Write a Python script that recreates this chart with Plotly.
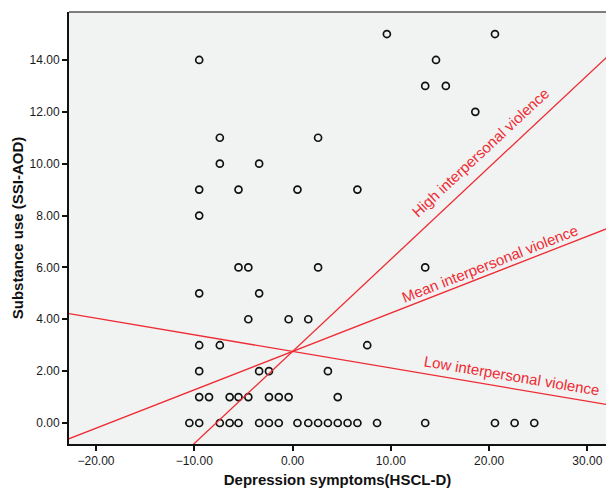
import plotly.graph_objects as go

# ---- data ----
dep_y0 = [-10.5, -9.5, -7.4, -6.4, -5.5, -3.4, -2.4, -1.4, 0.5, 1.6, 2.6, 3.6, 4.6, 5.6, 6.6, 8.6, 13.5, 20.6, 22.6, 24.6]
dep_y1 = [-9.5, -8.5, -6.4, -5.5, -4.5, -2.4, -1.4, -0.4, 4.6]
dep_y2 = [-9.5, -3.4, -2.4, 3.6]
dep_y3 = [-9.5, -7.4, 7.6]
dep_y4 = [-4.5, -0.4, 1.6]
dep_y5 = [-9.5, -3.4]
dep_y6 = [-5.5, -4.5, 2.6, 13.5]
dep_y8 = [-9.5]
dep_y9 = [-9.5, -5.5, 0.5, 6.6]
dep_y10 = [-7.4, -3.4]
dep_y11 = [-7.4, 2.6]
dep_y12 = [18.6]
dep_y13 = [13.5, 15.6]
dep_y14 = [-9.5, 14.6]
dep_y15 = [9.6, 20.6]

substance_levels = [0, 1, 2, 3, 4, 5, 6, 8, 9, 10, 11, 12, 13, 14, 15]
depression_by_level = [dep_y0, dep_y1, dep_y2, dep_y3, dep_y4, dep_y5, dep_y6, dep_y8,
                       dep_y9, dep_y10, dep_y11, dep_y12, dep_y13, dep_y14, dep_y15]

line_names = ["High interpersonal violence", "Mean interpersonal violence", "Low interpersonal violence"]
line_intercepts = [2.76, 2.76, 2.76]
line_slopes = [0.355, 0.148, -0.064]
label_x = [19.1, 20.1, 22.3]

x_tickvals = [-20, -10, 0, 10, 20, 30]
y_tickvals = [0, 2, 4, 6, 8, 10, 12, 14]

x_range = [-22.75, 31.9]
y_range = [-0.81, 15.85]

# ---- build figure ----
xs, ys = [], []
for lvl, deps in zip(substance_levels, depression_by_level):
    for d in deps:
        xs.append(d)
        ys.append(lvl)

RED = "#ee2b33"
FONT = "Arial, Liberation Sans, sans-serif"

fig = go.Figure()
fig.add_trace(go.Scatter(
    x=xs, y=ys, mode="markers",
    marker=dict(symbol="circle-open", size=7, color="#111111", line=dict(width=1.7, color="#111111")),
    showlegend=False, hoverinfo="skip"))

label_shift = [23, 11, 13]
label_angle = [-43, -21.4, 9.6]
for name, b0, b1, lx, sh, ang in zip(line_names, line_intercepts, line_slopes, label_x, label_shift, label_angle):
    fig.add_trace(go.Scatter(
        x=[x_range[0] - 5, x_range[1] + 5],
        y=[b0 + b1 * (x_range[0] - 5), b0 + b1 * (x_range[1] + 5)],
        mode="lines", line=dict(color=RED, width=1.3),
        showlegend=False, hoverinfo="skip", cliponaxis=True))
    fig.add_annotation(x=lx, y=b0 + b1 * lx, text=name, showarrow=False,
                       textangle=ang, yshift=sh,
                       font=dict(family=FONT, size=15, color=RED))

fig.add_shape(type="line", xref="paper", yref="paper", x0=0, x1=1, y0=1, y1=1,
              line=dict(color="#555555", width=1.5))

fig.update_layout(
    width=606, height=491,
    margin=dict(l=69, r=0, t=12, b=47),
    paper_bgcolor="white", plot_bgcolor="#f1f2f2",
    font=dict(family=FONT, color="#222222"),
    xaxis=dict(range=x_range, tickvals=x_tickvals, tickformat=".2f",
               showgrid=False, zeroline=False, showline=True, linecolor="#111111", linewidth=2,
               ticks="outside", ticklen=5, tickwidth=2, tickcolor="#111111",
               tickfont=dict(size=12, family=FONT, color="#1a1a1a"),
               title=dict(text="<b>Depression symptoms(HSCL-D)</b>", standoff=7,
                          font=dict(size=15, family=FONT, color="#111111"))),
    yaxis=dict(range=y_range, tickvals=y_tickvals, tickformat=".2f",
               showgrid=False, zeroline=False, showline=True, linecolor="#111111", linewidth=2,
               ticks="outside", ticklen=5, tickwidth=2, tickcolor="#111111",
               tickfont=dict(size=12, family=FONT, color="#1a1a1a"),
               title=dict(text="<b>Substance use (SSI-AOD)</b>", standoff=2,
                          font=dict(size=15, family=FONT, color="#111111"))),
)

fig.write_html("out.html", config={"displayModeBar": False},
               post_script="document.body.style.margin='0';document.body.style.overflow='hidden';")
